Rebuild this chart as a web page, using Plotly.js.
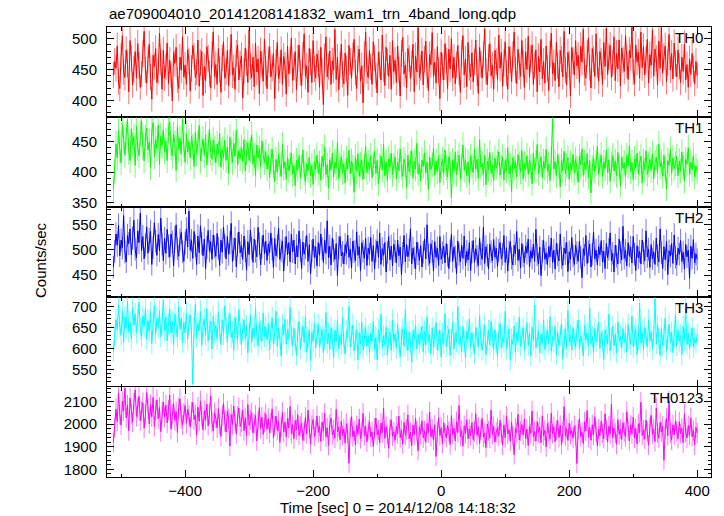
<!DOCTYPE html>
<html>
<head>
<meta charset="utf-8">
<script src="https://cdn.plot.ly/plotly-3.0.1.min.js"></script>
<style>html,body{margin:0;padding:0;background:#fff;}#chart{width:724px;height:516px;}</style>
</head>
<body>
<div id="chart"></div>
<script>
// time bins: start (s) and bin width (s)
const T0 = -512;
const DT = 2;

const bandNames = ['TH0', 'TH1', 'TH2', 'TH3', 'TH0123'];

const th0 = [
441,463,452,488,430,419,471,505,446,437,482,459,414,497,468,425,451,479,436,492,
457,421,443,476,512,449,428,466,491,438,402,473,455,484,429,447,509,462,418,481,
436,454,493,427,465,441,399,478,460,486,433,419,470,449,503,438,457,426,482,464,
415,452,489,471,437,446,498,423,461,479,408,455,432,487,468,443,420,474,511,439,
458,426,484,450,413,469,495,436,447,481,424,462,507,441,453,418,476,490,433,459,
472,404,448,485,461,429,514,455,437,470,422,493,446,467,411,480,458,431,499,444,
419,466,487,438,452,476,403,461,494,435,449,482,426,471,457,410,488,443,465,501,
432,454,479,417,468,490,445,424,473,508,439,456,413,484,462,429,497,451,436,475,
460,421,486,447,393,471,503,438,455,480,426,464,449,515,434,470,417,458,491,442,
427,477,452,408,489,463,436,472,499,445,419,467,483,431,456,396,474,511,448,437,
481,454,426,495,469,440,412,478,458,433,506,451,424,486,462,439,473,418,497,447,
465,429,488,450,407,476,502,443,457,421,484,468,435,459,491,414,472,446,518,437,
453,480,425,467,496,441,416,474,458,510,439,462,428,487,449,403,478,455,433,492,
464,419,483,451,500,436,470,427,458,489,446,413,476,505,441,467,422,494,453,438,
477,430,462,498,445,411,486,459,436,473,516,448,425,469,492,440,457,418,481,463,
434,506,452,478,423,461,495,444,418,487,466,431,474,511,449,427,483,455,439,497,
460,421,479,450,504,437,468,490,426,457,482,414,471,446,499,435,463,428,488,452,
416,475,509,443,461,432,494,456,422,481,467,438,512,449,425,478,459,407,486,464,
441,497,456,473,429,488,462,515,445,436,476,501,453,420,484,467,439,508,458,431,
479,463,426,494,455,517,442,471,489,437,460,503,432,476,451,498,423,485,466,447,
505,458,434,481,469,519,446,427,490,462,478,436,511,453,487,441,466,499,428,474,
457,514,439,483,468,425,496,452,520,444,471,488,430,462,507,449,476,435,493,460,
438,482,455,429,470,447,491,433,458,421,467,442,476,451,427,463,440
];

const th1 = [
372,401,446,423,468,437,415,479,452,428,461,486,433,419,470,444,458,411,475,439,
427,463,484,441,418,456,472,436,449,407,466,481,425,453,438,477,412,459,443,470,
434,451,419,468,482,440,426,461,447,403,474,437,455,429,487,445,416,462,433,450,
423,458,441,409,465,430,447,476,418,439,454,427,461,412,444,470,432,421,452,437,
415,446,429,463,408,437,424,452,419,441,398,457,433,416,447,426,469,411,435,422,
440,417,453,402,431,448,419,436,461,413,427,395,444,423,438,409,451,428,416,433,
405,426,391,418,437,409,384,421,400,429,412,393,445,406,417,388,424,402,413,431,
396,410,378,419,403,427,391,408,436,399,385,414,402,424,394,411,380,417,405,428,
398,415,387,426,409,441,396,412,374,420,403,431,392,417,406,449,389,411,425,399,
414,383,422,405,436,397,418,408,367,425,401,430,393,412,420,388,409,442,399,416,
404,427,391,413,434,398,419,381,410,426,403,445,394,417,386,422,408,431,396,411,
425,389,416,402,438,407,393,421,411,375,428,400,414,435,390,418,405,447,397,413,
386,420,409,431,399,416,372,424,404,412,439,395,418,401,427,383,410,421,398,436,
407,392,425,413,358,419,402,433,396,415,428,388,411,444,403,420,394,417,382,426,
410,399,437,405,421,390,453,408,414,396,427,379,418,404,432,398,412,386,423,407,
416,433,395,409,425,387,419,402,440,397,411,368,424,406,418,392,429,413,400,435,
389,414,404,427,396,420,409,381,431,403,416,445,398,412,425,391,418,406,437,401,
413,386,422,487,405,417,394,428,410,376,419,402,434,397,411,424,388,415,403,429,
398,421,407,383,426,412,438,395,416,404,430,391,419,366,408,423,401,414,442,397,
411,428,393,417,405,436,399,420,385,413,427,402,418,394,432,409,378,424,406,415,
392,427,410,443,401,416,388,422,407,431,397,414,426,382,418,404,435,396,412,421,
403,430,389,415,424,399,446,408,417,393,428,405,372,419,411,437,398,423,406,414,
426,394,418,402,433,409,385,421,413,440,397,416,404,427,392,410,401
];

const th2 = [
466,497,531,509,548,488,519,503,567,495,476,528,512,541,490,523,558,501,484,537,
514,572,498,526,482,509,545,493,520,536,471,504,553,517,489,530,498,562,511,478,
522,493,540,507,486,531,515,468,524,549,502,487,519,534,496,477,513,541,505,576,
499,518,483,536,508,471,527,494,547,512,488,521,463,505,538,497,516,481,529,506,
487,532,503,469,519,495,544,508,482,526,491,514,552,477,501,523,466,511,535,494,
508,481,527,498,460,516,490,539,503,475,521,497,486,544,512,470,505,529,492,517,
479,511,494,533,501,465,522,488,507,542,481,498,517,458,503,526,490,514,476,531,
496,519,472,508,486,537,499,463,515,491,504,528,477,510,453,497,521,485,506,468,
514,489,531,502,475,519,493,557,484,507,470,523,498,481,512,449,504,526,488,495,
472,510,493,529,485,501,464,517,496,478,535,489,506,459,514,497,483,522,469,503,
491,524,477,508,462,498,517,485,533,471,502,489,514,456,495,526,480,507,468,511,
497,474,519,488,505,451,493,528,476,510,486,499,541,472,503,484,463,515,492,479,
508,466,495,521,482,549,490,473,512,497,458,516,485,503,469,526,481,494,507,474,
512,489,463,498,530,477,505,486,453,517,491,476,509,483,527,468,497,480,514,459,
495,518,475,502,487,469,523,492,481,544,473,506,489,462,511,496,478,520,485,503,
467,499,514,482,491,528,475,504,458,496,516,483,470,509,492,536,479,501,464,512,
488,474,507,493,521,466,498,483,511,477,540,490,472,505,449,497,518,481,494,470,
506,486,523,475,499,462,513,490,478,531,484,469,503,492,515,457,496,481,524,488,
471,509,494,477,517,485,445,502,489,528,473,496,511,466,491,535,482,499,470,506,
490,518,476,497,463,512,484,501,533,478,493,456,509,487,472,521,495,480,546,483,
499,468,514,487,505,474,526,491,459,508,484,497,472,519,493,478,537,486,501,465,
510,482,496,471,523,489,476,541,494,463,506,480,517,451,498,487,512,473,529,485,
470,503,491,518,477,495,462,511,486,499,444,507,483,520,474,492,481
];

const th3 = [
592,627,668,645,703,652,631,689,615,674,648,712,639,661,623,697,655,682,636,669,
709,646,628,677,653,694,621,666,640,685,611,658,702,634,671,649,688,627,660,715,
642,675,618,657,693,636,664,608,681,650,627,699,645,672,614,661,637,684,622,656,
679,633,515,648,704,626,659,641,688,607,652,670,631,694,618,645,663,599,676,638,
654,621,687,642,609,668,633,701,647,615,659,682,626,640,596,673,651,619,692,635,
608,645,668,623,654,589,637,679,614,648,626,697,632,605,661,642,617,684,628,651,
620,659,596,641,673,612,635,688,604,647,625,581,656,633,669,610,644,622,697,630,
606,648,618,583,637,664,599,629,652,614,676,591,625,643,570,638,617,659,601,634,
657,603,628,645,589,621,685,611,636,597,649,624,578,643,615,666,598,632,609,674,
612,587,641,625,700,603,629,656,594,620,643,573,637,610,662,596,628,649,605,631,
589,635,617,664,598,626,572,644,613,681,602,630,608,651,584,623,639,595,667,616,
634,600,658,612,580,627,646,605,692,619,594,638,615,566,642,621,655,598,633,610,
627,653,591,640,608,675,614,632,587,649,603,626,661,596,618,643,579,636,611,682,
604,630,646,583,621,663,598,637,615,699,609,628,592,652,617,576,641,623,670,601,
638,612,587,649,626,604,678,618,596,633,655,585,620,642,608,664,627,597,644,613,
580,636,659,602,625,614,688,598,631,646,571,622,609,653,590,637,616,674,605,629,
648,595,624,661,607,636,582,650,619,703,601,627,641,589,633,612,668,597,626,644,
610,675,593,628,617,652,585,639,606,631,659,574,623,646,602,690,615,632,596,649,
621,603,641,667,598,630,614,582,655,620,637,605,696,611,628,590,647,616,633,662,
600,638,619,573,644,627,610,681,594,625,652,606,634,589,663,617,629,600,647,614,
636,591,657,622,609,676,603,631,645,586,620,707,612,638,597,649,625,604,668,618,
640,599,629,718,611,654,624,583,646,607,633,672,595,621,657,614,639,590,626,680,
606,643,617,631,585,652,620,698,609,635,598,627,648,603,624,612,632
];

const th0123 = [
1918,1985,2067,2012,2138,2043,1996,2101,2059,2160,2028,2084,1971,2116,2047,2009,2093,2152,2035,2071,
2124,2016,2058,2095,1982,2043,2140,2069,2001,2087,2033,2119,1990,2061,2108,2024,2075,1967,2052,2099,
2031,2085,2006,2062,2129,1978,2044,2091,2017,2056,1963,2073,2112,2025,1996,2048,2083,2004,2066,2038,
1987,2054,2097,2020,2041,1952,2076,2013,2103,2035,1975,2060,2018,2089,1993,2045,2126,2009,1970,2051,
2027,1984,2069,2001,1946,2038,2092,2011,1965,2057,2024,1903,2043,1998,2081,2016,1957,2035,2072,1989,
2010,2063,1971,2029,1948,2087,1995,2020,2051,1962,2003,2039,1926,2015,2074,1981,2032,1955,2008,2046,
1977,2025,1961,2004,2068,1940,1993,2036,1972,2014,1919,1987,2053,1966,2009,1944,2027,1983,2079,1959,
1998,1935,2017,1976,2042,1951,1990,2006,1928,1968,2031,1957,2062,1981,1912,1995,2021,1946,1973,2037,
1963,1992,1924,2009,1970,2048,1944,1984,1906,1999,2027,1953,1975,1938,2066,1967,1988,1931,2013,1950,
1979,1916,2002,1961,1827,1986,2034,1945,1971,1909,1994,1957,2023,1936,1968,2048,1949,1990,1922,1974,
2010,1943,1966,1901,1983,2027,1952,1975,1918,2004,1962,2071,1937,1989,1955,1893,1981,2019,1947,1965,
1928,1991,1958,2036,1940,1973,1912,2008,1951,1977,2042,1935,1964,1905,1996,1953,2025,1969,1882,1987,
1956,2015,1939,1971,1920,2003,1962,2054,1944,1978,1931,1997,1857,1966,2029,1950,1985,1913,2006,1960,
1941,1995,1967,1910,2038,1954,1982,1926,2011,1963,2083,1945,1972,1903,1993,1958,2020,1936,1979,1949,
2007,1932,1968,2047,1951,1987,1915,1975,2026,1943,1960,1896,2001,1971,1938,2063,1955,1990,1921,1964,
1984,1947,2017,1961,1908,1997,1939,2035,1957,1976,1924,2009,1948,1865,1981,1963,2044,1930,1970,1999,
1952,2022,1937,1978,1906,1991,1959,2058,1945,1968,1925,2012,1962,1986,1917,2037,1950,1973,1899,2003,
1966,1934,2049,1958,1989,1922,1974,2016,1941,1995,1909,1963,2078,1947,1980,1928,2004,1955,1971,1938,
1993,1951,1826,1977,2024,1946,1964,1914,2010,1970,2061,1942,1985,1929,1998,1953,2033,1967,1904,1979,
1948,2013,1960,1936,2046,1975,1921,1992,1957,2089,1940,1983,1961,1911,2020,1954,1978,1932,2007,1965,
1944,2055,1972,1926,1996,1958,2031,1939,1981,1913,2002,1963,2097,1950,1975,1934,2018,1968,1907,1987,
2040,1955,1979,1923,2072,1961,1938,2008,1966,1991,1840,1977,2026,1949,2102,1960,1929,1997,1953,2015,
1969,1936,2011,1958,1982,1917,2045,1964,1939,1994,1951,2028,1945,1973,1908,1986,1961
];

const series = [th0, th1, th2, th3, th0123];
const colors = ['#ff0000', '#00ff00', '#0000ff', '#00ffff', '#ff00ff'];
const errColors = ['rgba(255,0,0,0.55)', 'rgba(0,255,0,0.55)', 'rgba(0,0,255,0.55)', 'rgba(0,255,255,0.55)', 'rgba(255,0,255,0.55)'];
const yRanges = [[373, 519], [343, 490], [407, 584], [508, 722], [1766, 2165]];
const yDticks = [50, 50, 50, 50, 100];
const yMinor = [10, 10, 10, 10, 20];

const FONT = 'Liberation Sans, Arial, Helvetica, sans-serif';
const data = [];
const layout = {
  width: 724, height: 516,
  margin: {l: 107, r: 13, t: 27, b: 39, pad: 0},
  paper_bgcolor: '#fff', plot_bgcolor: '#fff',
  showlegend: false,
  font: {family: FONT, size: 15, color: '#000'},
  title: {text: 'ae709004010_20141208141832_wam1_trn_4band_long.qdp', xref: 'container', x: 109/724, xanchor: 'left', yref: 'container', y: 1 - 14/516, yanchor: 'middle', font: {family: FONT, size: 15, color: '#000'}},
  annotations: []
};

for (let i = 0; i < 5; i++) {
  const n = i + 1;
  const xs = n === 1 ? '' : String(n);
  data.push({
    type: 'scatter', mode: 'lines',
    x0: T0, dx: DT, y: series[i],
    xaxis: 'x' + xs, yaxis: 'y' + xs,
    line: {color: colors[i], width: 1},
    error_y: {type: 'sqrt', visible: true, color: errColors[i], thickness: 1, width: 0},
    hoverinfo: 'skip'
  });
  const top = 1 - 0.2 * i;
  layout['yaxis' + xs] = {
    domain: [top - 0.2, top], anchor: 'x' + xs,
    range: yRanges[i], dtick: yDticks[i], tick0: 0,
    ticks: 'inside', ticklen: 7, tickwidth: 1, tickcolor: '#000',
    minor: {dtick: yMinor[i], tick0: 0, ticks: 'inside', ticklen: 3.5, tickwidth: 1, tickcolor: '#000', showgrid: false},
    showline: true, linecolor: '#000', linewidth: 1, mirror: 'allticks',
    showgrid: false, zeroline: false,
    ticklabelstandoff: 6,
    tickfont: {family: FONT, size: 15, color: '#000'}
  };
  layout['xaxis' + xs] = {
    anchor: 'y' + xs, domain: [0, 1],
    range: [-522, 421.5], dtick: 200, tick0: 0,
    ticks: 'inside', ticklen: 7, tickwidth: 1, tickcolor: '#000',
    minor: {dtick: 100, tick0: 0, ticks: 'inside', ticklen: 3.5, tickwidth: 1, tickcolor: '#000', showgrid: false},
    showline: true, linecolor: '#000', linewidth: 1, mirror: 'allticks',
    showgrid: false, zeroline: false,
    showticklabels: n === 5,
    tickfont: {family: FONT, size: 15, color: '#000'}
  };
  if (n > 1) layout['xaxis' + xs].matches = 'x';
  layout.annotations.push({
    text: bandNames[i], showarrow: false,
    xref: 'paper', x: (705 - 107) / 604, xanchor: 'right',
    yref: 'y' + xs + ' domain', y: 1 - 10.5 / 90, yanchor: 'middle',
    font: {family: FONT, size: 15, color: '#000'}
  });
}

layout.annotations.push({
  text: 'Counts/sec', showarrow: false, textangle: -90,
  xref: 'paper', x: (40 - 107) / 604, xanchor: 'center',
  yref: 'paper', y: (477 - 260) / 450, yanchor: 'middle',
  font: {family: FONT, size: 15, color: '#000'}
});
layout.annotations.push({
  text: 'Time [sec] 0 = 2014/12/08 14:18:32', showarrow: false,
  xref: 'paper', x: (398 - 107) / 604, xanchor: 'center',
  yref: 'paper', y: (477 - 507) / 450, yanchor: 'middle',
  font: {family: FONT, size: 15, color: '#000'}
});

Plotly.newPlot('chart', data, layout, {staticPlot: true, displayModeBar: false});
</script>
</body>
</html>
